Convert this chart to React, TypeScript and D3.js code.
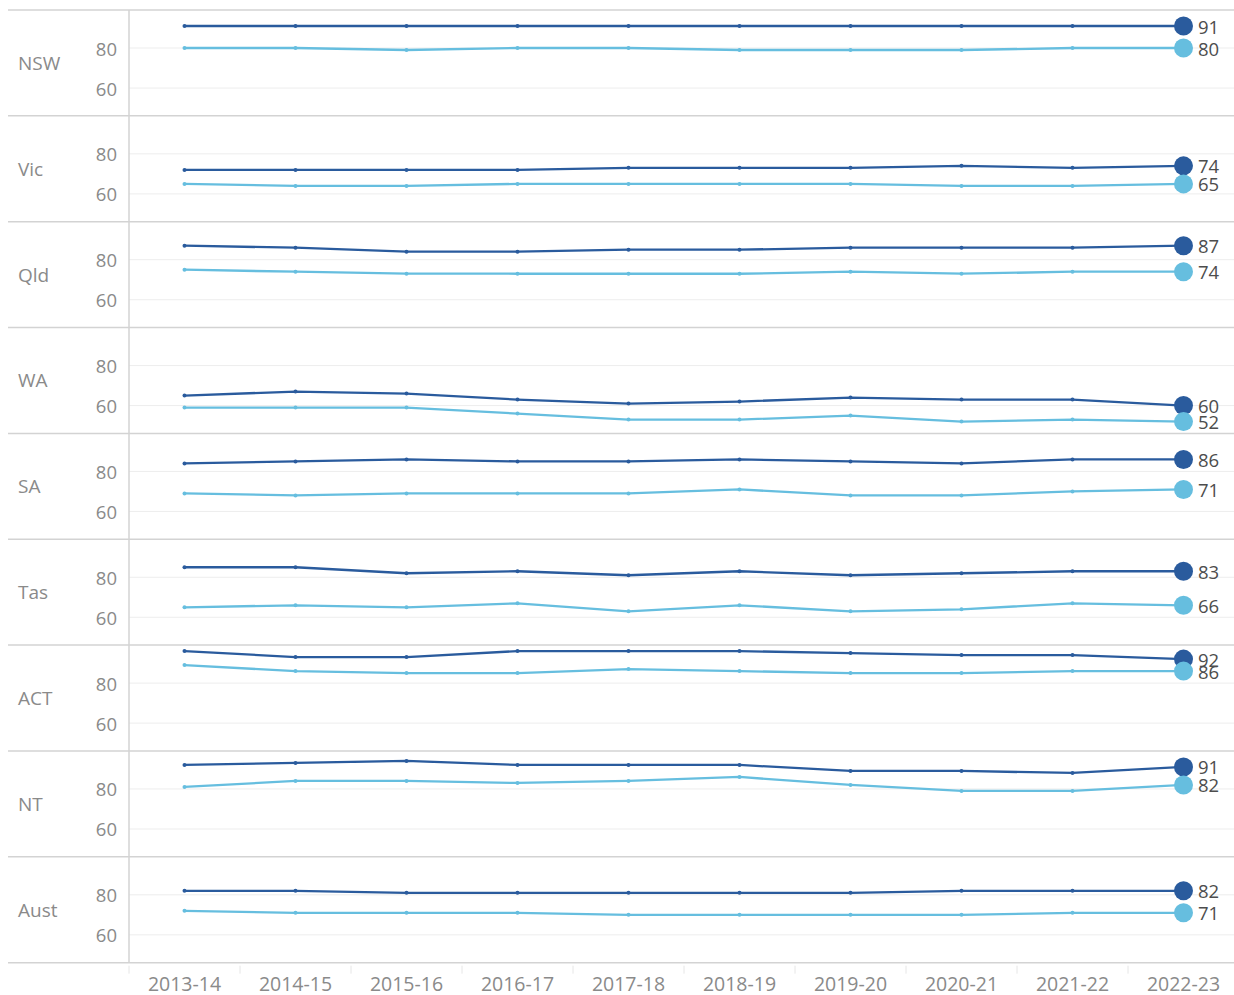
import React from "react";
import * as d3 from "d3";

const years = ["2013-14", "2014-15", "2015-16", "2016-17", "2017-18", "2018-19", "2019-20", "2020-21", "2021-22", "2022-23"];
const regions = ["NSW", "Vic", "Qld", "WA", "SA", "Tas", "ACT", "NT", "Aust"];
const yTicks = [80, 60];

// dark (upper) series per region
const nswHigh = [91, 91, 91, 91, 91, 91, 91, 91, 91, 91];
const vicHigh = [72, 72, 72, 72, 73, 73, 73, 74, 73, 74];
const qldHigh = [87, 86, 84, 84, 85, 85, 86, 86, 86, 87];
const waHigh = [65, 67, 66, 63, 61, 62, 64, 63, 63, 60];
const saHigh = [84, 85, 86, 85, 85, 86, 85, 84, 86, 86];
const tasHigh = [85, 85, 82, 83, 81, 83, 81, 82, 83, 83];
const actHigh = [96, 93, 93, 96, 96, 96, 95, 94, 94, 92];
const ntHigh = [92, 93, 94, 92, 92, 92, 89, 89, 88, 91];
const austHigh = [82, 82, 81, 81, 81, 81, 81, 82, 82, 82];

// light (lower) series per region
const nswLow = [80, 80, 79, 80, 80, 79, 79, 79, 80, 80];
const vicLow = [65, 64, 64, 65, 65, 65, 65, 64, 64, 65];
const qldLow = [75, 74, 73, 73, 73, 73, 74, 73, 74, 74];
const waLow = [59, 59, 59, 56, 53, 53, 55, 52, 53, 52];
const saLow = [69, 68, 69, 69, 69, 71, 68, 68, 70, 71];
const tasLow = [65, 66, 65, 67, 63, 66, 63, 64, 67, 66];
const actLow = [89, 86, 85, 85, 87, 86, 85, 85, 86, 86];
const ntLow = [81, 84, 84, 83, 84, 86, 82, 79, 79, 82];
const austLow = [72, 71, 71, 71, 70, 70, 70, 70, 71, 71];

const highSeries = [nswHigh, vicHigh, qldHigh, waHigh, saHigh, tasHigh, actHigh, ntHigh, austHigh];
const lowSeries = [nswLow, vicLow, qldLow, waLow, saLow, tasLow, actLow, ntLow, austLow];

const DARK = "#2a5b9d";
const LIGHT = "#66bedf";
const FONT = "'Open Sans', sans-serif";

export default function App() {
  const W = 1234;
  const H = 995;
  const top0 = 10;
  const panelH = 105.85;
  const leftX = 8;
  const axisX = 129;

  const x = d3.scaleBand<string>().domain(years).range([axisX, 1239]);
  const y = d3.scaleLinear().domain([46.1, 99]).range([panelH, 0]);
  const cx = (i: number) => (x(years[i]) as number) + x.bandwidth() / 2;
  const line = d3
    .line<number>()
    .x((_, i) => cx(i))
    .y((d) => y(d));

  const bottom = top0 + panelH * regions.length;
  const last = years.length - 1;

  return (
    <svg width={W} height={H} style={{ position: "absolute", left: 0, top: 0, background: "#fff" }} fontFamily={FONT}>
      {/* gridlines */}
      {regions.map((r, ri) => (
        <g key={"g" + r} transform={`translate(0,${top0 + ri * panelH})`}>
          {yTicks.map((t) => (
            <line key={t} x1={axisX} x2={W} y1={y(t)} y2={y(t)} stroke="#ededed" strokeWidth={1} />
          ))}
        </g>
      ))}
      {/* separators */}
      {d3.range(regions.length + 1).map((i) => (
        <line key={"s" + i} x1={leftX} x2={W} y1={top0 + i * panelH} y2={top0 + i * panelH} stroke="#d3d3d3" strokeWidth={1.5} />
      ))}
      <line x1={axisX} x2={axisX} y1={top0} y2={bottom} stroke="#d3d3d3" strokeWidth={1.5} />
      {/* band ticks on x axis */}
      {years.map((yr) => (
        <line key={"bt" + yr} x1={x(yr) as number} x2={x(yr) as number} y1={bottom + 3} y2={bottom + 11} stroke="#e6e6e6" strokeWidth={1} />
      ))}
      {/* x labels */}
      {years.map((yr, i) => (
        <text key={"xl" + yr} x={cx(i)} y={bottom + 20.5} textAnchor="middle" dominantBaseline="central" fontSize={19.5} fill="#8a8a8a">
          {yr}
        </text>
      ))}
      {regions.map((r, ri) => {
        const hi = highSeries[ri];
        const lo = lowSeries[ri];
        return (
          <g key={r} transform={`translate(0,${top0 + ri * panelH})`}>
            <text x={18} y={panelH / 2} dominantBaseline="central" fontSize={19} fill="#8a8a8a">
              {r}
            </text>
            {yTicks.map((t) => (
              <text key={t} x={117} y={y(t)} textAnchor="end" dominantBaseline="central" fontSize={18.5} fill="#8a8a8a">
                {t}
              </text>
            ))}
            <path d={line(lo) as string} fill="none" stroke={LIGHT} strokeWidth={2.3} strokeLinejoin="round" />
            <path d={line(hi) as string} fill="none" stroke={DARK} strokeWidth={2.3} strokeLinejoin="round" />
            {lo.map((v, i) => (
              <circle key={"lm" + i} cx={cx(i)} cy={y(v)} r={2} fill={LIGHT} />
            ))}
            {hi.map((v, i) => (
              <circle key={"hm" + i} cx={cx(i)} cy={y(v)} r={2} fill={DARK} />
            ))}
            <circle cx={cx(last)} cy={y(hi[last])} r={9.5} fill={DARK} />
            <circle cx={cx(last)} cy={y(lo[last])} r={9.5} fill={LIGHT} />
            <text x={1198} y={y(hi[last])} dominantBaseline="central" fontSize={18.5} fill="#4d4d4d">
              {hi[last]}
            </text>
            <text x={1198} y={y(lo[last])} dominantBaseline="central" fontSize={18.5} fill="#4d4d4d">
              {lo[last]}
            </text>
          </g>
        );
      })}
    </svg>
  );
}
